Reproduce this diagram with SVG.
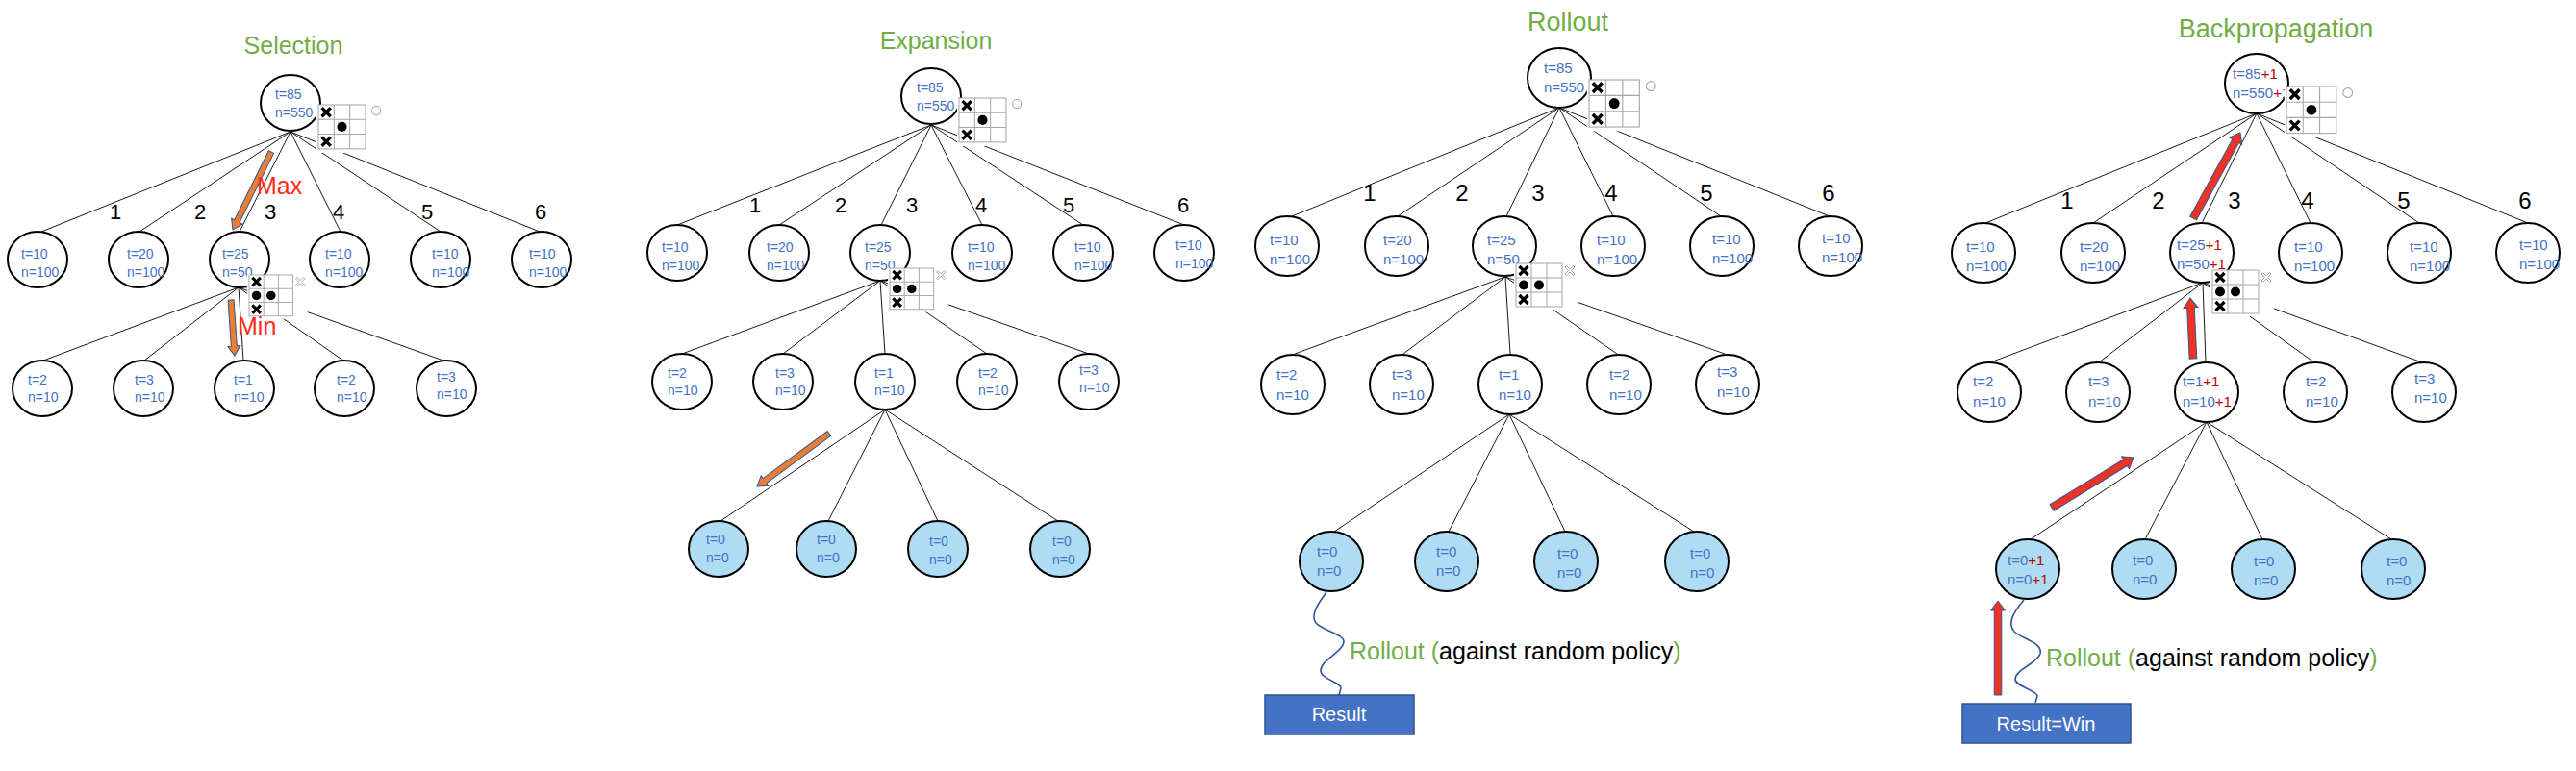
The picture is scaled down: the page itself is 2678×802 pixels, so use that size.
<svg xmlns="http://www.w3.org/2000/svg" xmlns:xlink="http://www.w3.org/1999/xlink" width="2678" height="802" viewBox="0 0 2678 802">
<style>
.bg{fill:#fff}
.nd{fill:#fff;stroke:#000;stroke-width:2}
.lf{fill:#AEDCF5;stroke:#000;stroke-width:2}
.v{font-family:"Liberation Sans",Arial,sans-serif;fill:#4472C4}
.s14{font-size:14px}
.s15{font-size:15px}
.r{fill:#C00000}
.num{font-family:"Liberation Sans",Arial,sans-serif;fill:#000;text-anchor:middle}
.ttl{font-family:"Liberation Sans",Arial,sans-serif;fill:#70AD47;text-anchor:middle}
.ed{stroke:#000;stroke-width:0.9;fill:none}
.oa{fill:#ED7D31;stroke:#2F5597;stroke-width:1}
.ra{fill:#EE3224;stroke:#2F5597;stroke-width:1}
.grid{fill:none;stroke:#A6A6A6;stroke-width:1}
.xm{stroke:#000;stroke-width:3.2;fill:none}
.red{font-family:"Liberation Sans",Arial,sans-serif;fill:#FF2A1A;font-size:25px}
.lbl{font-family:"Liberation Sans",Arial,sans-serif;font-size:25px}
.g{fill:#70AD47}
.k{fill:#000}
.wave{fill:none;stroke:#2F5597;stroke-width:1.6}
.res{fill:#4472C4;stroke:#2F528F;stroke-width:1.5}
.rt{font-family:"Liberation Sans",Arial,sans-serif;font-size:20px;fill:#fff;text-anchor:middle}
</style>
<defs>
<g id="boardA">
<rect x="-2" y="0" width="52" height="49" fill="#fff"/>
<rect x="0" y="0" width="48" height="45" class="grid"/>
<path d="M16,0V45M32,0V45M0,15H48M0,30H48" class="grid"/>
<path d="M3.5,3L12.5,12M12.5,3L3.5,12M3.5,33L12.5,42M12.5,33L3.5,42" class="xm"/>
<circle cx="24" cy="22.5" r="5" fill="#000"/>
<circle cx="59" cy="6" r="4.5" fill="none" stroke="#A6A6A6" stroke-width="1"/>
</g>
<g id="boardB">
<rect x="-2" y="0" width="66" height="48" fill="#fff"/>
<rect x="0" y="0" width="48" height="45" class="grid"/>
<path d="M16,0V45M32,0V45M0,15H48M0,30H48" class="grid"/>
<path d="M3.5,3L12.5,12M12.5,3L3.5,12M3.5,33L12.5,42M12.5,33L3.5,42" class="xm"/>
<circle cx="8" cy="22.5" r="5" fill="#000"/>
<circle cx="24" cy="22.5" r="5" fill="#000"/>
<path d="M51,4L52.5,2.5L56,6L59.5,2.5L61,4L57.5,7.5L61,11L59.5,12.5L56,9L52.5,12.5L51,11L54.5,7.5Z" fill="#fff" stroke="#A6A6A6" stroke-width="1"/>
</g>
</defs>
<rect width="2678" height="802" class="bg"/>

<g id="titles">
<text x="305" y="56" class="ttl" font-size="25">Selection</text>
<text x="973" y="51" class="ttl" font-size="25">Expansion</text>
<text x="1630" y="32" class="ttl" font-size="27">Rollout</text>
<text x="2366" y="39" class="ttl" font-size="27">Backpropagation</text>
</g>

<g id="connectors">
<!-- panel 1 -->
<path class="ed" d="M302,137L43,241M302,137L145,241M302,137L249,241M302,137L354,241M302,137L458,241M302,137L561,241"/>
<path class="ed" d="M248,299L45,375M248,299L150,375M248,299L253,375M248,299L357,375M248,299L461,375"/>
<!-- panel 2 -->
<path class="ed" d="M968,130L704,234M968,130L810,234M968,130L916,234M968,130L1021,234M968,130L1126,234M968,130L1231,234"/>
<path class="ed" d="M915,292L709,368M915,292L814,368M915,292L920,368M915,292L1026,368M915,292L1132,368"/>
<path class="ed" d="M920,426L749,542M920,426L861,542M920,426L975,542M920,426L1100,542"/>
<!-- panel 3 -->
<path class="ed" d="M1621,112L1343,225M1621,112L1453,225M1621,112L1566,225M1621,112L1677,225M1621,112L1789,225M1621,112L1902,225"/>
<path class="ed" d="M1565,288L1346,368M1565,288L1459,368M1565,288L1570,368M1565,288L1681,368M1565,288L1793,368"/>
<path class="ed" d="M1569,431L1387,553M1569,431L1506,553M1569,431L1627,553M1569,431L1761,553"/>
<path class="wave" d="M1379,616C1370,628 1362,640 1368,648C1375,656 1398,660 1397,668C1396,678 1374,686 1373,697C1372,706 1395,710 1394,716L1392,723"/>
<!-- panel 4 -->
<path class="ed" d="M2346,118L2064,232M2346,118L2176,232M2346,118L2289,232M2346,118L2402,232M2346,118L2515,232M2346,118L2628,232"/>
<path class="ed" d="M2290,294L2069,377M2290,294L2182,377M2290,294L2293,377M2290,294L2406,377M2290,294L2518,377"/>
<path class="ed" d="M2294,439L2111,561M2294,439L2230,561M2294,439L2352,561M2294,439L2486,561"/>
<path class="wave" d="M2104,624C2094,636 2086,648 2094,657C2102,665 2124,668 2121,680C2118,690 2096,696 2095,706C2094,714 2118,718 2118,724L2116,731"/>
</g>

<!-- ===== Panel 1: Selection ===== -->
<g id="p1-root"><ellipse cx="302" cy="107" rx="31" ry="29" class="nd"/><text class="v s14" x="286" y="103">t=85</text><text class="v s14" x="286" y="122">n=550</text></g>
<g id="p1-c1"><ellipse cx="39" cy="270" rx="31" ry="29" class="nd"/><text class="v s14" x="22" y="269">t=10</text><text class="v s14" x="22" y="288">n=100</text></g>
<g id="p1-c2"><ellipse cx="144" cy="270" rx="31" ry="29" class="nd"/><text class="v s14" x="132" y="269">t=20</text><text class="v s14" x="132" y="288">n=100</text></g>
<g id="p1-c3"><ellipse cx="249" cy="270" rx="31" ry="29" class="nd"/><text class="v s14" x="231" y="269">t=25</text><text class="v s14" x="231" y="288">n=50</text></g>
<g id="p1-c4"><ellipse cx="353" cy="270" rx="31" ry="29" class="nd"/><text class="v s14" x="338" y="269">t=10</text><text class="v s14" x="338" y="288">n=100</text></g>
<g id="p1-c5"><ellipse cx="458" cy="270" rx="31" ry="29" class="nd"/><text class="v s14" x="449" y="269">t=10</text><text class="v s14" x="449" y="288">n=100</text></g>
<g id="p1-c6"><ellipse cx="563" cy="270" rx="31" ry="29" class="nd"/><text class="v s14" x="550" y="269">t=10</text><text class="v s14" x="550" y="288">n=100</text></g>
<g id="p1-g1"><ellipse cx="44" cy="404" rx="31" ry="29" class="nd"/><text class="v s14" x="29" y="400">t=2</text><text class="v s14" x="29" y="418">n=10</text></g>
<g id="p1-g2"><ellipse cx="149" cy="404" rx="31" ry="29" class="nd"/><text class="v s14" x="140" y="400">t=3</text><text class="v s14" x="140" y="418">n=10</text></g>
<g id="p1-g3"><ellipse cx="254" cy="404" rx="31" ry="29" class="nd"/><text class="v s14" x="243" y="400">t=1</text><text class="v s14" x="243" y="418">n=10</text></g>
<g id="p1-g4"><ellipse cx="358" cy="404" rx="31" ry="29" class="nd"/><text class="v s14" x="350" y="400">t=2</text><text class="v s14" x="350" y="418">n=10</text></g>
<g id="p1-g5"><ellipse cx="464" cy="404" rx="31" ry="29" class="nd"/><text class="v s14" x="454" y="397">t=3</text><text class="v s14" x="454" y="415">n=10</text></g>
<g id="p1-nums" class="num" font-size="22"><text x="120" y="228">1</text><text x="208" y="228">2</text><text x="281" y="228">3</text><text x="352" y="228">4</text><text x="444" y="228">5</text><text x="562" y="228">6</text></g>
<g id="p1-boardA"><use xlink:href="#boardA" transform="translate(331,109) scale(1.02)"/></g>
<g id="p1-boardB"><use xlink:href="#boardB" transform="translate(259,286) scale(0.95)"/></g>
<g id="p1-max"><polygon class="oa" transform="translate(242,239) rotate(116.3)" points="-90.3,-3 -10,-3 -10,-6.5 0,0 -10,6.5 -10,3 -90.3,3"/><text class="red" x="267" y="202">Max</text></g>
<g id="p1-min"><polygon class="oa" transform="translate(244,370) rotate(86.1)" points="-58.1,-3 -10,-3 -10,-6.5 0,0 -10,6.5 -10,3 -58.1,3"/><text class="red" x="247" y="348">Min</text></g>

<!-- ===== Panel 2: Expansion ===== -->
<g id="p2-root"><ellipse cx="968" cy="100" rx="31" ry="29" class="nd"/><text class="v s14" x="953" y="96">t=85</text><text class="v s14" x="953" y="115">n=550</text></g>
<g id="p2-c1"><ellipse cx="704" cy="263" rx="31" ry="29" class="nd"/><text class="v s14" x="688" y="262">t=10</text><text class="v s14" x="688" y="281">n=100</text></g>
<g id="p2-c2"><ellipse cx="810" cy="263" rx="31" ry="29" class="nd"/><text class="v s14" x="797" y="262">t=20</text><text class="v s14" x="797" y="281">n=100</text></g>
<g id="p2-c3"><ellipse cx="915" cy="263" rx="31" ry="29" class="nd"/><text class="v s14" x="899" y="262">t=25</text><text class="v s14" x="899" y="281">n=50</text></g>
<g id="p2-c4"><ellipse cx="1021" cy="263" rx="31" ry="29" class="nd"/><text class="v s14" x="1006" y="262">t=10</text><text class="v s14" x="1006" y="281">n=100</text></g>
<g id="p2-c5"><ellipse cx="1126" cy="263" rx="31" ry="29" class="nd"/><text class="v s14" x="1117" y="262">t=10</text><text class="v s14" x="1117" y="281">n=100</text></g>
<g id="p2-c6"><ellipse cx="1231" cy="263" rx="31" ry="29" class="nd"/><text class="v s14" x="1222" y="260">t=10</text><text class="v s14" x="1222" y="279">n=100</text></g>
<g id="p2-g1"><ellipse cx="709" cy="397" rx="31" ry="29" class="nd"/><text class="v s14" x="694" y="393">t=2</text><text class="v s14" x="694" y="411">n=10</text></g>
<g id="p2-g2"><ellipse cx="814" cy="397" rx="31" ry="29" class="nd"/><text class="v s14" x="806" y="393">t=3</text><text class="v s14" x="806" y="411">n=10</text></g>
<g id="p2-g3"><ellipse cx="920" cy="397" rx="31" ry="29" class="nd"/><text class="v s14" x="909" y="393">t=1</text><text class="v s14" x="909" y="411">n=10</text></g>
<g id="p2-g4"><ellipse cx="1026" cy="397" rx="31" ry="29" class="nd"/><text class="v s14" x="1017" y="393">t=2</text><text class="v s14" x="1017" y="411">n=10</text></g>
<g id="p2-g5"><ellipse cx="1132" cy="397" rx="31" ry="29" class="nd"/><text class="v s14" x="1122" y="390">t=3</text><text class="v s14" x="1122" y="408">n=10</text></g>
<g id="p2-l1"><ellipse cx="747" cy="571" rx="31" ry="29" class="lf"/><text class="v s14" x="734" y="566">t=0</text><text class="v s14" x="734" y="585">n=0</text></g>
<g id="p2-l2"><ellipse cx="859" cy="571" rx="31" ry="29" class="lf"/><text class="v s14" x="849" y="566">t=0</text><text class="v s14" x="849" y="585">n=0</text></g>
<g id="p2-l3"><ellipse cx="975" cy="571" rx="31" ry="29" class="lf"/><text class="v s14" x="966" y="568">t=0</text><text class="v s14" x="966" y="587">n=0</text></g>
<g id="p2-l4"><ellipse cx="1102" cy="571" rx="31" ry="29" class="lf"/><text class="v s14" x="1094" y="568">t=0</text><text class="v s14" x="1094" y="587">n=0</text></g>
<g id="p2-nums" class="num" font-size="22"><text x="785" y="221">1</text><text x="874" y="221">2</text><text x="948" y="221">3</text><text x="1020" y="221">4</text><text x="1111" y="221">5</text><text x="1230" y="221">6</text></g>
<g id="p2-boardA"><use xlink:href="#boardA" transform="translate(997,102) scale(1.02)"/></g>
<g id="p2-boardB"><use xlink:href="#boardB" transform="translate(925,279) scale(0.95)"/></g>
<g id="p2-arrow"><polygon class="oa" transform="translate(787,506) rotate(143.7)" points="-93,-3 -10,-3 -10,-6.5 0,0 -10,6.5 -10,3 -93,3"/></g>

<!-- ===== Panel 3: Rollout ===== -->
<g id="p3-root"><ellipse cx="1621" cy="81" rx="33" ry="31" class="nd"/><text class="v s15" x="1605" y="76">t=85</text><text class="v s15" x="1605" y="96">n=550</text></g>
<g id="p3-c1"><ellipse cx="1338" cy="256" rx="33" ry="31" class="nd"/><text class="v s15" x="1320" y="255">t=10</text><text class="v s15" x="1320" y="275">n=100</text></g>
<g id="p3-c2"><ellipse cx="1452" cy="256" rx="33" ry="31" class="nd"/><text class="v s15" x="1438" y="255">t=20</text><text class="v s15" x="1438" y="275">n=100</text></g>
<g id="p3-c3"><ellipse cx="1564" cy="256" rx="33" ry="31" class="nd"/><text class="v s15" x="1546" y="255">t=25</text><text class="v s15" x="1546" y="275">n=50</text></g>
<g id="p3-c4"><ellipse cx="1677" cy="256" rx="33" ry="31" class="nd"/><text class="v s15" x="1660" y="255">t=10</text><text class="v s15" x="1660" y="275">n=100</text></g>
<g id="p3-c5"><ellipse cx="1790" cy="256" rx="33" ry="31" class="nd"/><text class="v s15" x="1780" y="254">t=10</text><text class="v s15" x="1780" y="274">n=100</text></g>
<g id="p3-c6"><ellipse cx="1903" cy="256" rx="33" ry="31" class="nd"/><text class="v s15" x="1894" y="253">t=10</text><text class="v s15" x="1894" y="273">n=100</text></g>
<g id="p3-g1"><ellipse cx="1344" cy="400" rx="33" ry="31" class="nd"/><text class="v s15" x="1327" y="395">t=2</text><text class="v s15" x="1327" y="416">n=10</text></g>
<g id="p3-g2"><ellipse cx="1457" cy="400" rx="33" ry="31" class="nd"/><text class="v s15" x="1447" y="395">t=3</text><text class="v s15" x="1447" y="416">n=10</text></g>
<g id="p3-g3"><ellipse cx="1570" cy="400" rx="33" ry="31" class="nd"/><text class="v s15" x="1558" y="395">t=1</text><text class="v s15" x="1558" y="416">n=10</text></g>
<g id="p3-g4"><ellipse cx="1683" cy="400" rx="33" ry="31" class="nd"/><text class="v s15" x="1673" y="395">t=2</text><text class="v s15" x="1673" y="416">n=10</text></g>
<g id="p3-g5"><ellipse cx="1796" cy="400" rx="33" ry="31" class="nd"/><text class="v s15" x="1785" y="392">t=3</text><text class="v s15" x="1785" y="413">n=10</text></g>
<g id="p3-l1"><ellipse cx="1384" cy="584" rx="33" ry="31" class="lf"/><text class="v s15" x="1369" y="579">t=0</text><text class="v s15" x="1369" y="599">n=0</text></g>
<g id="p3-l2"><ellipse cx="1504" cy="584" rx="33" ry="31" class="lf"/><text class="v s15" x="1493" y="579">t=0</text><text class="v s15" x="1493" y="599">n=0</text></g>
<g id="p3-l3"><ellipse cx="1628" cy="584" rx="33" ry="31" class="lf"/><text class="v s15" x="1619" y="581">t=0</text><text class="v s15" x="1619" y="601">n=0</text></g>
<g id="p3-l4"><ellipse cx="1764" cy="584" rx="33" ry="31" class="lf"/><text class="v s15" x="1757" y="581">t=0</text><text class="v s15" x="1757" y="601">n=0</text></g>
<g id="p3-nums" class="num" font-size="24"><text x="1424" y="209">1</text><text x="1520" y="209">2</text><text x="1599" y="209">3</text><text x="1675" y="209">4</text><text x="1774" y="209">5</text><text x="1901" y="209">6</text></g>
<g id="p3-boardA"><use xlink:href="#boardA" transform="translate(1652,83) scale(1.09)"/></g>
<g id="p3-boardB"><use xlink:href="#boardB" transform="translate(1576,274) scale(1.0)"/></g>
<g id="p3-label"><text class="lbl" x="1403" y="686"><tspan class="g">Rollout (</tspan><tspan class="k">against random policy</tspan><tspan class="g">)</tspan></text></g>
<g id="p3-result"><rect x="1315" y="723" width="155" height="41" class="res"/><text class="rt" x="1392" y="750">Result</text></g>

<!-- ===== Panel 4: Backpropagation ===== -->
<g id="p4-root"><ellipse cx="2346" cy="87" rx="33" ry="31" class="nd"/><text class="v s15" x="2321" y="82">t=85<tspan class="r">+1</tspan></text><text class="v s15" x="2321" y="102">n=550<tspan class="r">+1</tspan></text></g>
<g id="p4-c1"><ellipse cx="2062" cy="263" rx="33" ry="31" class="nd"/><text class="v s15" x="2044" y="262">t=10</text><text class="v s15" x="2044" y="282">n=100</text></g>
<g id="p4-c2"><ellipse cx="2176" cy="263" rx="33" ry="31" class="nd"/><text class="v s15" x="2162" y="262">t=20</text><text class="v s15" x="2162" y="282">n=100</text></g>
<g id="p4-c3"><ellipse cx="2289" cy="263" rx="33" ry="31" class="nd"/><text class="v s15" x="2263" y="260">t=25<tspan class="r">+1</tspan></text><text class="v s15" x="2263" y="280">n=50<tspan class="r">+1</tspan></text></g>
<g id="p4-c4"><ellipse cx="2402" cy="263" rx="33" ry="31" class="nd"/><text class="v s15" x="2385" y="262">t=10</text><text class="v s15" x="2385" y="282">n=100</text></g>
<g id="p4-c5"><ellipse cx="2515" cy="263" rx="33" ry="31" class="nd"/><text class="v s15" x="2505" y="262">t=10</text><text class="v s15" x="2505" y="282">n=100</text></g>
<g id="p4-c6"><ellipse cx="2628" cy="263" rx="33" ry="31" class="nd"/><text class="v s15" x="2619" y="260">t=10</text><text class="v s15" x="2619" y="280">n=100</text></g>
<g id="p4-g1"><ellipse cx="2068" cy="408" rx="33" ry="31" class="nd"/><text class="v s15" x="2051" y="402">t=2</text><text class="v s15" x="2051" y="423">n=10</text></g>
<g id="p4-g2"><ellipse cx="2181" cy="408" rx="33" ry="31" class="nd"/><text class="v s15" x="2171" y="402">t=3</text><text class="v s15" x="2171" y="423">n=10</text></g>
<g id="p4-g3"><ellipse cx="2294" cy="408" rx="33" ry="31" class="nd"/><text class="v s15" x="2269" y="402">t=1<tspan class="r">+1</tspan></text><text class="v s15" x="2269" y="423">n=10<tspan class="r">+1</tspan></text></g>
<g id="p4-g4"><ellipse cx="2407" cy="408" rx="33" ry="31" class="nd"/><text class="v s15" x="2397" y="402">t=2</text><text class="v s15" x="2397" y="423">n=10</text></g>
<g id="p4-g5"><ellipse cx="2520" cy="408" rx="33" ry="31" class="nd"/><text class="v s15" x="2510" y="399">t=3</text><text class="v s15" x="2510" y="419">n=10</text></g>
<g id="p4-l1"><ellipse cx="2108" cy="592" rx="33" ry="31" class="lf"/><text class="v s15" x="2087" y="588">t=0<tspan class="r">+1</tspan></text><text class="v s15" x="2087" y="608">n=0<tspan class="r">+1</tspan></text></g>
<g id="p4-l2"><ellipse cx="2229" cy="592" rx="33" ry="31" class="lf"/><text class="v s15" x="2217" y="588">t=0</text><text class="v s15" x="2217" y="608">n=0</text></g>
<g id="p4-l3"><ellipse cx="2353" cy="592" rx="33" ry="31" class="lf"/><text class="v s15" x="2343" y="589">t=0</text><text class="v s15" x="2343" y="609">n=0</text></g>
<g id="p4-l4"><ellipse cx="2488" cy="592" rx="33" ry="31" class="lf"/><text class="v s15" x="2481" y="589">t=0</text><text class="v s15" x="2481" y="609">n=0</text></g>
<g id="p4-nums" class="num" font-size="24"><text x="2149" y="217">1</text><text x="2244" y="217">2</text><text x="2323" y="217">3</text><text x="2399" y="217">4</text><text x="2499" y="217">5</text><text x="2625" y="217">6</text></g>
<g id="p4-boardA"><use xlink:href="#boardA" transform="translate(2377,90) scale(1.08)"/></g>
<g id="p4-boardB"><use xlink:href="#boardB" transform="translate(2300,281) scale(1.0)"/></g>
<g id="p4-label"><text class="lbl" x="2127" y="693"><tspan class="g">Rollout (</tspan><tspan class="k">against random policy</tspan><tspan class="g">)</tspan></text></g>
<g id="p4-result"><rect x="2040" y="732" width="175" height="41" class="res"/><text class="rt" x="2127" y="760">Result=Win</text></g>
<g id="p4-arrows">
<polygon class="ra" transform="translate(2329,138) rotate(-61.2)" points="-101.6,-3.8 -10,-3.8 -10,-7.5 0,0 -10,7.5 -10,3.8 -101.6,3.8"/>
<polygon class="ra" transform="translate(2277,310) rotate(-92.7)" points="-63,-3.8 -10,-3.8 -10,-7.5 0,0 -10,7.5 -10,3.8 -63,3.8"/>
<polygon class="ra" transform="translate(2218,476) rotate(-31.5)" points="-99.6,-3.8 -10,-3.8 -10,-7.5 0,0 -10,7.5 -10,3.8 -99.6,3.8"/>
<polygon class="ra" transform="translate(2077,625) rotate(-90)" points="-98,-3.8 -10,-3.8 -10,-7.5 0,0 -10,7.5 -10,3.8 -98,3.8"/>
</g>
</svg>
